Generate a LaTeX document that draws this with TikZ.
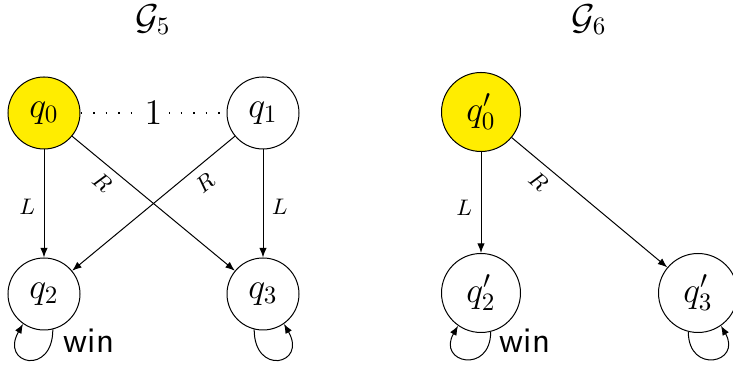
\documentclass[tikz,border=0pt]{standalone}
\usetikzlibrary{arrows.meta}
\definecolor{stateyellow}{RGB}{255,237,0}
\begin{document}
\begin{tikzpicture}[x=0.4pt,y=0.4pt,>={Latex[length=3.8pt,width=2.9pt]},
  state/.style={circle,draw,line width=0.4pt,minimum size=28.8pt,inner sep=0pt,font=\Large},
  pstate/.style={state,minimum size=31.6pt},
  init/.style={fill=stateyellow},
  tedge/.style={->,line width=0.4pt},
  lab/.style={font=\small},
  dotedge/.style={line width=0.75pt,dash pattern=on 0.75pt off 4.25pt},
  title/.style={font=\Large,inner sep=0pt},
  wintext/.style={font=\sffamily\Large}]
\useasboundingbox (0,0) rectangle (733,371);
% titles
\node[title] (t5) at (153,351) {$\mathcal{G}_5$};
\node[title] (t6) at (589,351) {$\mathcal{G}_6$};
% G5
\node[state,init] (q0) at (44,258) {$q_0$};
\node[state] (q1) at (263,258) {$q_1$};
\node[state] (q2) at (44,77) {$q_2$};
\node[state] (q3) at (263,77) {$q_3$};
\draw[dotedge] (q0) -- node[fill=white,font=\Large,inner sep=2.5pt] (one) {$1$} (q1);
\draw[tedge] (q0) -- node[lab,left,pos=0.53] (l1) {$L$} (q2);
\draw[tedge] (q0) -- node[lab,sloped,below,pos=0.25] (r1) {$R$} (q3);
\draw[tedge] (q1) -- node[lab,sloped,below,pos=0.25] (r2) {$R$} (q2);
\draw[tedge] (q1) -- node[lab,right,pos=0.53] (l2) {$L$} (q3);
\draw[tedge] (q2.-76) .. controls +(-90:47) and +(-120:47) .. (q2.-125);
\draw[tedge] (q3.-104) .. controls +(-90:47) and +(-60:47) .. (q3.-55);
\node[wintext] (w1) at (89,30) {win};
% G6
\node[pstate,init] (p0) at (481,259) {$q_0'$};
\node[pstate] (p2) at (481,78) {$q_2'$};
\node[pstate] (p3) at (698,78) {$q_3'$};
\draw[tedge] (p0) -- node[lab,left,pos=0.55] (l3) {$L$} (p2);
\draw[tedge] (p0) -- node[lab,sloped,below,pos=0.24] (r3) {$R$} (p3);
\draw[tedge] (p2.-76) .. controls +(-90:43) and +(-120:43) .. (p2.-125);
\draw[tedge] (p3.-104) .. controls +(-90:43) and +(-60:43) .. (p3.-55);
\node[wintext] (w2) at (525,30) {win};
\end{tikzpicture}
\end{document}
